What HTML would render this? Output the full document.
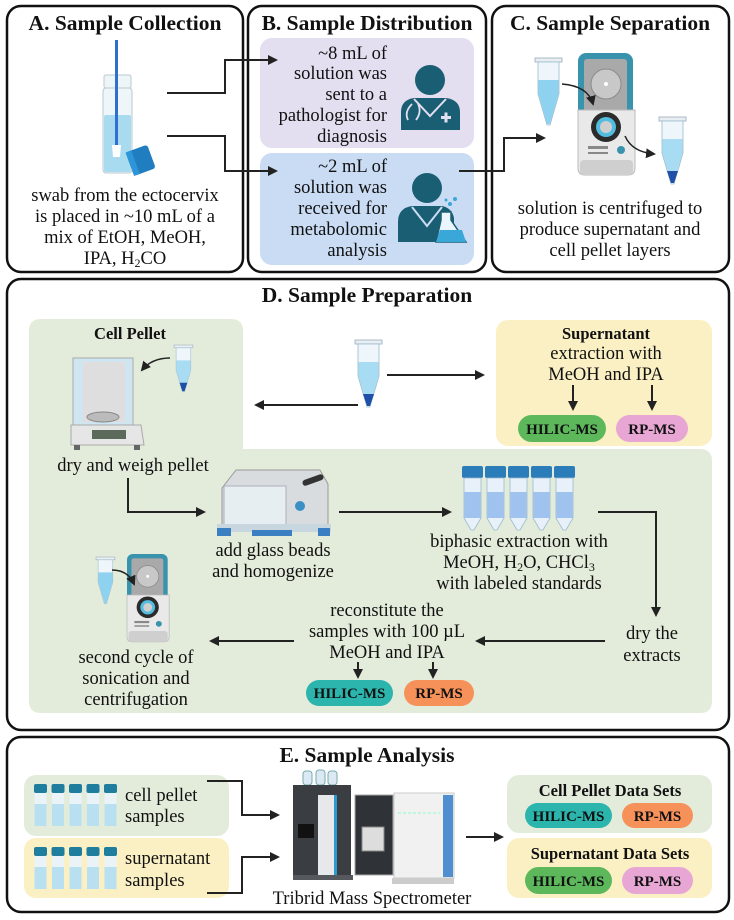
<!DOCTYPE html>
<html><head><meta charset="utf-8"><style>
html,body{margin:0;padding:0;background:#fff;}
svg{display:block;}
text{font-family:"Liberation Serif",serif;fill:#111;}
.t{font-size:21.5px;font-weight:bold;text-anchor:middle;}
.b{font-size:18.5px;}
.m{text-anchor:middle;}
.r{text-anchor:end;}
.bb{font-size:16.5px;font-weight:bold;}
.p{font-size:15px;font-weight:bold;text-anchor:middle;}
.ln{fill:none;stroke:#222;stroke-width:2;}
</style></head><body>
<svg width="734" height="920" viewBox="0 0 734 920" xmlns="http://www.w3.org/2000/svg">
<defs>
<marker id="a" markerWidth="10" markerHeight="10" refX="8" refY="5" orient="auto" markerUnits="userSpaceOnUse">
<path d="M0,0 L10,5 L0,10 Z" fill="#222"/></marker>
<g id="tube">
<rect x="0" y="0" width="27" height="4" fill="#e8eef2" stroke="#9ab" stroke-width="0.8"/>
<path d="M3,4 L24,4 L24,36 L15,67 L12,67 L3,36 Z" fill="#eef6fb" stroke="#9bc" stroke-width="0.8"/>
<path d="M3.5,22 L23.5,22 L23.5,36 L15,66 L12,66 L3.5,36 Z" fill="#8ed2f0"/>
</g>
<g id="ptube">
<rect x="0" y="0" width="27" height="4" fill="#e8eef2" stroke="#9ab" stroke-width="0.8"/>
<path d="M3,4 L24,4 L24,36 L15,67 L12,67 L3,36 Z" fill="#eef6fb" stroke="#9bc" stroke-width="0.8"/>
<path d="M3.5,22 L23.5,22 L23.5,36 L15,66 L12,66 L3.5,36 Z" fill="#a8dcf2"/>
<path d="M8,54 L19,54 L15,66 L12,66 Z" fill="#1f4fa8"/>
</g>
<g id="cf">
<rect x="578" y="53" width="55" height="64" rx="8" fill="#3a93ad"/>
<rect x="584" y="59" width="43" height="56" rx="3" fill="#a9a9a9"/>
<circle cx="606" cy="84" r="15" fill="#c8c8c8" stroke="#8a8a8a"/>
<circle cx="606" cy="84" r="2" fill="#fff"/>
<path d="M578,110 L635,110 L635,168 Q635,175 628,175 L585,175 Q578,175 578,168 Z" fill="#e9e9e9" stroke="#bbb"/>
<rect x="580" y="160" width="53" height="15" rx="4" fill="#cfcfcf"/>
<circle cx="606" cy="127" r="15" fill="#2b2b2b"/>
<circle cx="606" cy="127" r="10" fill="#53bde0"/>
<circle cx="606" cy="127" r="6" fill="#cfcfcf"/>
<rect x="588" y="146" width="20" height="3" fill="#888"/>
<rect x="588" y="152" width="20" height="2" fill="#888"/>
<circle cx="621" cy="150" r="4" fill="#3a93ad"/>
</g>
<g id="vial">
<rect x="0" y="0" width="13" height="9" rx="2" fill="#1f7d9e"/>
<rect x="0.5" y="9" width="12" height="33" fill="#e9f3f8"/>
<rect x="0.5" y="20" width="12" height="22" fill="#b9e0f0"/>
</g>
<g id="ftube">
<rect x="0" y="0" width="21" height="12" rx="2" fill="#2a7db8"/>
<path d="M2,12 L19,12 L19,52 L12,64 L9,64 L2,52 Z" fill="#e8f1fa" stroke="#9bc" stroke-width="0.8"/>
<rect x="2.5" y="26" width="16" height="26" fill="#9fc3ee"/>
</g>
</defs>

<!-- Top panels -->
<rect x="7" y="6" width="236" height="266" rx="14" fill="none" stroke="#111" stroke-width="2.5"/>
<rect x="248" y="6" width="238" height="266" rx="14" fill="none" stroke="#111" stroke-width="2.5"/>
<rect x="492" y="6" width="237" height="266" rx="14" fill="none" stroke="#111" stroke-width="2.5"/>
<text class="t" x="125" y="30">A. Sample Collection</text>
<text class="t" x="367" y="30">B. Sample Distribution</text>
<text class="t" x="610" y="30">C. Sample Separation</text>

<!-- vial A -->
<rect x="104" y="75" width="27" height="13" rx="2" fill="#eef5f8" stroke="#b9c9d0"/>
<rect x="103" y="88" width="29" height="85" rx="3" fill="#eef6fa" stroke="#b9c9d0"/>
<rect x="104" y="115" width="27" height="57" rx="2" fill="#a9dbf0"/>
<rect x="115" y="40" width="3" height="105" fill="#2f6fd0"/>
<path d="M112,145 L121,145 L120,157 L113,157 Z" fill="#fff"/>
<g transform="rotate(-20 140 160)"><rect x="129" y="148" width="23" height="25" rx="3" fill="#1f7dc0"/><rect x="129" y="148" width="6" height="25" fill="#2e95d8"/></g>
<text class="b m" x="125" y="201">swab from the ectocervix</text>
<text class="b m" x="125" y="222">is placed in ~10 mL of a</text>
<text class="b m" x="125" y="243">mix of EtOH, MeOH,</text>
<text class="b m" x="125" y="264">IPA, H<tspan font-size="12" dy="3">2</tspan><tspan dy="-3">CO</tspan></text>

<!-- B boxes -->
<rect x="260" y="38" width="214" height="110" rx="12" fill="#e3dff0"/>
<rect x="260" y="153" width="214" height="112" rx="12" fill="#c9dcf4"/>
<path class="ln" d="M167,93 L225,93 L225,60 L276,60" marker-end="url(#a)"/>
<path class="ln" d="M167,136 L225,136 L225,171 L276,171" marker-end="url(#a)"/>
<text class="b r" x="387" y="59">~8 mL of</text>
<text class="b r" x="387" y="79">solution was</text>
<text class="b r" x="387" y="100">sent to a</text>
<text class="b r" x="387" y="121">pathologist for</text>
<text class="b r" x="387" y="142">diagnosis</text>
<text class="b r" x="387" y="172">~2 mL of</text>
<text class="b r" x="387" y="193">solution was</text>
<text class="b r" x="387" y="214">received for</text>
<text class="b r" x="387" y="235">metabolomic</text>
<text class="b r" x="387" y="256">analysis</text>
<!-- doctor -->
<circle cx="430" cy="80" r="15" fill="#1a5e74"/>
<path d="M401,130 L401,112 Q401,100 414,98 L446,98 Q460,100 460,112 L460,130 Z" fill="#1a5e74"/>
<path d="M414,99 L430,116 L446,99" fill="none" stroke="#e3dff0" stroke-width="2"/>
<path d="M412,104 Q404,112 408,120 M418,104 Q422,112 416,120" fill="none" stroke="#e3dff0" stroke-width="1.8"/>
<rect x="441" y="116" width="10" height="3" fill="#e3dff0"/><rect x="444.5" y="112.5" width="3" height="10" fill="#e3dff0"/>
<!-- scientist -->
<circle cx="427" cy="188" r="15" fill="#1a5e74"/>
<path d="M398,242 L398,222 Q398,208 412,206 L442,206 Q452,208 454,218 L454,242 Z" fill="#1a5e74"/>
<path d="M412,207 L427,226 L442,207" fill="none" stroke="#c9dcf4" stroke-width="2"/>
<path d="M441,212 L451,212 L451,220 L466,242 L436,242 L441,220 Z" fill="#eaf6fb" stroke="#1a5e74" stroke-width="1.5"/>
<path d="M440,230 L462,230 L466,242 L436,242 Z" fill="#3aa7d9"/>
<circle cx="450" cy="204" r="2" fill="#3aa7d9"/><circle cx="455" cy="199" r="2" fill="#3aa7d9"/><circle cx="446" cy="200" r="1.5" fill="#3aa7d9"/>
<path class="ln" d="M459,171 L504,171 L504,138 L544,138" marker-end="url(#a)"/>

<!-- C -->
<use href="#tube" x="535" y="58"/>
<use href="#cf"/>
<use href="#ptube" x="659" y="117"/>
<path d="M562,84 Q588,86 593,104" fill="none" stroke="#222" stroke-width="1.5" marker-end="url(#a)"/>
<path d="M625,136 Q632,152 654,154" fill="none" stroke="#222" stroke-width="1.5" marker-end="url(#a)"/>
<text class="b m" x="610" y="214">solution is centrifuged to</text>
<text class="b m" x="610" y="235">produce supernatant and</text>
<text class="b m" x="610" y="256">cell pellet layers</text>

<!-- D -->
<rect x="7" y="279" width="722" height="451" rx="14" fill="none" stroke="#111" stroke-width="2.5"/>
<text class="t" x="367" y="302">D. Sample Preparation</text>
<path d="M41,319 L231,319 Q243,319 243,331 L243,449 L700,449 Q712,449 712,461 L712,701 Q712,713 700,713 L41,713 Q29,713 29,701 L29,331 Q29,319 41,319 Z" fill="#e3ecdb"/>
<rect x="496" y="320" width="216" height="126" rx="12" fill="#fbf0c4"/>
<text class="bb m" x="130" y="339">Cell Pellet</text>
<!-- balance -->
<rect x="73" y="358" width="60" height="70" fill="#cfe6f2" stroke="#aaa"/>
<rect x="83" y="362" width="42" height="60" fill="#dedede"/>
<ellipse cx="103" cy="417" rx="16" ry="5" fill="#bbb" stroke="#888"/>
<path d="M71,425 L141,425 L144,445 L71,445 Z" fill="#e6e6e6" stroke="#aaa"/>
<rect x="92" y="430" width="34" height="9" fill="#5b6a5b"/>
<rect x="74" y="445" width="6" height="5" fill="#666"/><rect x="134" y="445" width="6" height="5" fill="#666"/>
<g transform="translate(174,345) scale(0.7)"><use href="#ptube"/></g>
<path d="M170,358 Q152,358 142,370" fill="none" stroke="#222" stroke-width="1.5" marker-end="url(#a)"/>
<text class="b m" x="133" y="471">dry and weigh pellet</text>
<!-- center tube -->
<use href="#ptube" x="355" y="340"/>
<path class="ln" d="M387,375 L483,375" marker-end="url(#a)"/>
<path class="ln" d="M358,405 L256,405" marker-end="url(#a)"/>
<text class="bb m" x="606" y="339">Supernatant</text>
<text class="b m" x="606" y="359">extraction with</text>
<text class="b m" x="606" y="380">MeOH and IPA</text>
<path class="ln" d="M573,385 L573,409" marker-end="url(#a)"/>
<path class="ln" d="M652,385 L652,409" marker-end="url(#a)"/>
<rect x="518" y="415" width="88" height="27" rx="13.5" fill="#5db85c"/>
<text class="p" x="562" y="434">HILIC-MS</text>
<rect x="616" y="415" width="72" height="27" rx="13.5" fill="#e7a6d4"/>
<text class="p" x="652" y="434">RP-MS</text>
<!-- homogenizer -->
<path class="ln" d="M128,478 L128,512 L204,512" marker-end="url(#a)"/>
<path d="M222,488 L236,470 L320,470 L328,484 L328,528 L222,528 Z" fill="#d9dcdf" stroke="#999"/>
<rect x="224" y="486" width="62" height="40" fill="#e8f0f5" stroke="#aab" opacity="0.9"/>
<rect x="302" y="477" width="22" height="6" rx="3" fill="#333" transform="rotate(-20 313 480)"/>
<circle cx="300" cy="506" r="5" fill="#3a8fc5"/>
<rect x="217" y="524" width="114" height="8" fill="#c8d6e0"/>
<rect x="217" y="528" width="14" height="8" fill="#3a7fc2"/><rect x="318" y="528" width="12" height="8" fill="#3a7fc2"/><rect x="252" y="530" width="40" height="6" fill="#3a7fc2"/>
<text class="b m" x="273" y="556">add glass beads</text>
<text class="b m" x="273" y="577">and homogenize</text>
<path class="ln" d="M339,512 L450,512" marker-end="url(#a)"/>
<use href="#ftube" x="462" y="466"/><use href="#ftube" x="485" y="466"/><use href="#ftube" x="508" y="466"/><use href="#ftube" x="531" y="466"/><use href="#ftube" x="554" y="466"/>
<text class="b m" x="519" y="547">biphasic extraction with</text>
<text class="b m" x="519" y="568">MeOH, H<tspan font-size="12" dy="3">2</tspan><tspan dy="-3">O, CHCl</tspan><tspan font-size="12" dy="3">3</tspan></text>
<text class="b m" x="519" y="589">with labeled standards</text>
<path class="ln" d="M598,512 L656,512 L656,615" marker-end="url(#a)"/>
<text class="b m" x="652" y="639">dry the</text>
<text class="b m" x="652" y="661">extracts</text>
<path class="ln" d="M605,641 L477,641" marker-end="url(#a)"/>
<text class="b m" x="387" y="616">reconstitute the</text>
<text class="b m" x="387" y="637">samples with 100 µL</text>
<text class="b m" x="387" y="658">MeOH and IPA</text>
<path class="ln" d="M294,641 L211,641" marker-end="url(#a)"/>
<path class="ln" d="M358,662 L358,677" marker-end="url(#a)"/>
<path class="ln" d="M433,662 L433,677" marker-end="url(#a)"/>
<rect x="306" y="680" width="87" height="26" rx="13" fill="#2bb5ad"/>
<text class="p" x="349.5" y="698">HILIC-MS</text>
<rect x="404" y="680" width="70" height="26" rx="13" fill="#f6915a"/>
<text class="p" x="439" y="698">RP-MS</text>
<g transform="translate(127,554) scale(0.74,0.72) translate(-578,-53)"><use href="#cf"/></g>
<g transform="translate(96,557) scale(0.7)"><use href="#tube"/></g>
<path d="M112,570 Q128,570 134,584" fill="none" stroke="#222" stroke-width="1.5" marker-end="url(#a)"/>
<text class="b m" x="136" y="663">second cycle of</text>
<text class="b m" x="136" y="684">sonication and</text>
<text class="b m" x="136" y="705">centrifugation</text>

<!-- E -->
<rect x="7" y="737" width="722" height="175" rx="14" fill="none" stroke="#111" stroke-width="2.5"/>
<text class="t" x="367" y="762">E. Sample Analysis</text>
<rect x="24" y="775" width="205" height="61" rx="12" fill="#e3ecdb"/>
<rect x="24" y="838" width="205" height="60" rx="12" fill="#fbf0c4"/>
<use href="#vial" x="34" y="784"/><use href="#vial" x="51.5" y="784"/><use href="#vial" x="69" y="784"/><use href="#vial" x="86.5" y="784"/><use href="#vial" x="104" y="784"/>
<use href="#vial" x="34" y="847"/><use href="#vial" x="51.5" y="847"/><use href="#vial" x="69" y="847"/><use href="#vial" x="86.5" y="847"/><use href="#vial" x="104" y="847"/>
<text class="b" x="125" y="801">cell pellet</text>
<text class="b" x="125" y="822">samples</text>
<text class="b" x="125" y="864">supernatant</text>
<text class="b" x="125" y="886">samples</text>
<path class="ln" d="M207,781 L242,781 L242,815 L278,815" marker-end="url(#a)"/>
<path class="ln" d="M207,893 L242,893 L242,857 L278,857" marker-end="url(#a)"/>
<!-- mass spec -->
<rect x="303" y="771" width="9" height="14" rx="3" fill="#dbe9f5" stroke="#7aa"/><rect x="316" y="770" width="9" height="15" rx="3" fill="#dbe9f5" stroke="#7aa"/><rect x="328" y="771" width="9" height="14" rx="3" fill="#dbe9f5" stroke="#7aa"/>
<rect x="293" y="785" width="58" height="90" fill="#3a3d42"/>
<rect x="318" y="795" width="18" height="80" fill="#e6e8ea"/>
<rect x="334" y="795" width="3" height="80" fill="#2a9ad0"/>
<rect x="298" y="824" width="16" height="14" fill="#111"/>
<rect x="293" y="875" width="60" height="5" fill="#55585c"/>
<rect x="355" y="795" width="38" height="80" fill="#2f3236" stroke="#aaa"/>
<rect x="362" y="827" width="22" height="24" fill="#ddd" stroke="#888"/>
<rect x="394" y="793" width="60" height="85" fill="#f1f1f1" stroke="#ccc"/>
<rect x="443" y="795" width="10" height="82" fill="#4f8fcf"/>
<line x1="398" y1="813" x2="440" y2="813" stroke="#8fc" stroke-width="1" stroke-dasharray="3,2"/>
<rect x="392" y="878" width="62" height="6" fill="#ccc"/>
<text class="b m" x="372" y="904">Tribrid Mass Spectrometer</text>
<path class="ln" d="M466,837 L502,837" marker-end="url(#a)"/>
<rect x="507" y="775" width="205" height="58" rx="12" fill="#e3ecdb"/>
<rect x="507" y="838" width="205" height="60" rx="12" fill="#fbf0c4"/>
<text class="bb m" x="610" y="796">Cell Pellet Data Sets</text>
<rect x="525" y="803" width="87" height="25" rx="12.5" fill="#2bb5ad"/>
<text class="p" x="568.5" y="821">HILIC-MS</text>
<rect x="622" y="803" width="71" height="25" rx="12.5" fill="#f6915a"/>
<text class="p" x="657.5" y="821">RP-MS</text>
<text class="bb m" x="610" y="859">Supernatant Data Sets</text>
<rect x="525" y="867" width="87" height="27" rx="13.5" fill="#5db85c"/>
<text class="p" x="568.5" y="886">HILIC-MS</text>
<rect x="622" y="867" width="71" height="27" rx="13.5" fill="#e7a6d4"/>
<text class="p" x="657.5" y="886">RP-MS</text>
</svg>
</body></html>
